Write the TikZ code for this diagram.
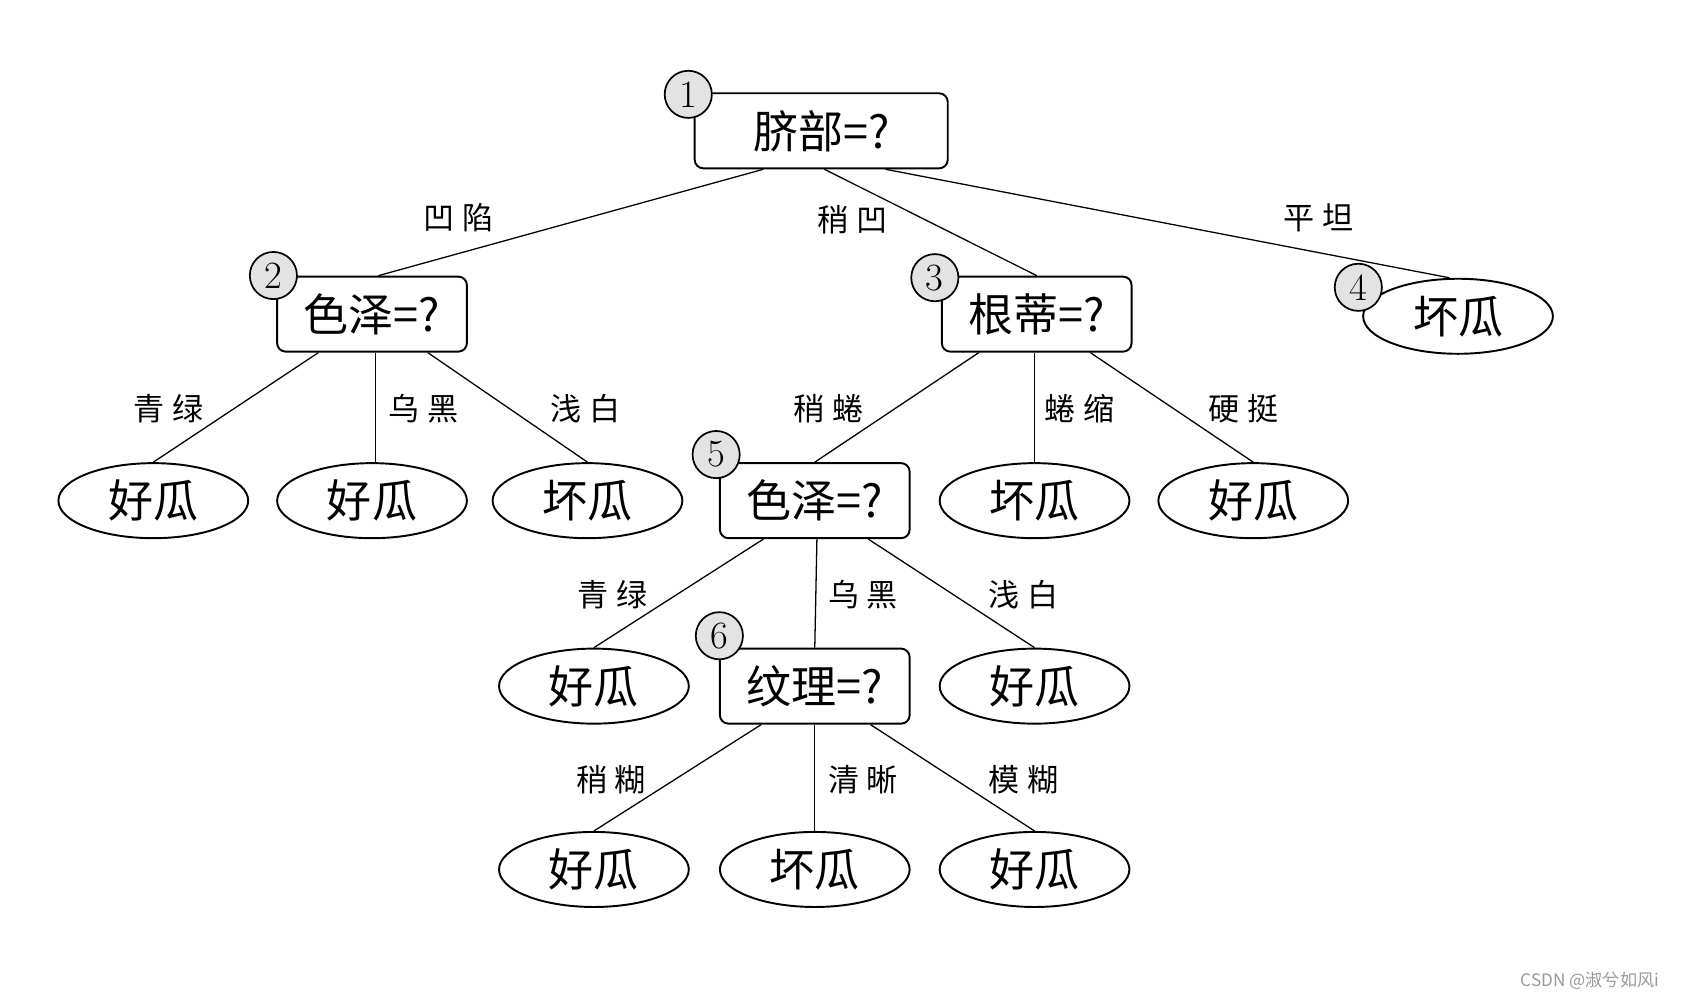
\documentclass[tikz,border=0pt]{standalone}
\usepackage{fontspec}
\newfontfamily\cjk{Noto Sans CJK SC}
\newfontfamily\cjklab[LetterSpace=25]{Noto Sans CJK SC}
\usetikzlibrary{shapes.geometric}
\begin{document}
\begin{tikzpicture}[x=0.5pt,y=-0.5pt,
  test/.style={draw, fill=white, rounded corners=4pt, minimum width=88.5pt, minimum height=35pt, line width=0.9pt, font=\cjk\fontsize{21}{21}\selectfont, inner sep=0pt},
  leaf/.style={draw, fill=white, ellipse, minimum width=88.5pt, minimum height=35pt, line width=0.9pt, font=\cjk\fontsize{21}{21}\selectfont, inner sep=0pt},
  num/.style={draw, circle, fill=gray!22, minimum size=22pt, inner sep=0pt, line width=0.8pt, font=\fontsize{18}{18}\selectfont},
  lab/.style={font=\cjklab\fontsize{14.5}{14.5}\selectfont, inner sep=0pt},
  edge/.style={line width=0.6pt}]
\useasboundingbox (0,0) rectangle (1568,933);
% tests and leaves
\node[test, minimum width=118pt] (n1) at (766,122) {脐部=?};
\node[test] (n2) at (347,293) {色泽=?};
\node[test] (n3) at (967,293) {根蒂=?};
\node[leaf] (n4) at (1360,295) {坏瓜};
\node[leaf] (l21) at (143,467) {好瓜};
\node[leaf] (l22) at (347,467) {好瓜};
\node[leaf] (l23) at (548,467) {坏瓜};
\node[test] (n5) at (760,467) {色泽=?};
\node[leaf] (l31) at (965,467) {坏瓜};
\node[leaf] (l32) at (1169,467) {好瓜};
\node[leaf] (l51) at (554,640) {好瓜};
\node[test] (n6) at (760,640) {纹理=?};
\node[leaf] (l53) at (965,640) {好瓜};
\node[leaf] (l61) at (554,811) {好瓜};
\node[leaf] (l62) at (760,811) {坏瓜};
\node[leaf] (l63) at (965,811) {好瓜};
% number circles
\node[num] (c1) at (642,88) {1};
\node[num] (c2) at (255,257) {2};
\node[num] (c3) at (872,259) {3};
\node[num] (c4) at (1267,268) {4};
\node[num] (c5) at (668,424) {5};
\node[num] (c6) at (671,593) {6};
% edges
\draw[edge] ([xshift=-27pt]n1.south) -- ([xshift=3pt]n2.north);
\draw[edge] ([xshift=1.5pt]n1.south) -- (n3.north);
\draw[edge] ([xshift=30pt]n1.south) -- ([xshift=-4pt]n4.north);
\draw[edge] ([xshift=-25pt]n2.south) -- (l21.north);
\draw[edge] ([xshift=1.5pt]n2.south) -- ([xshift=1.5pt]l22.north);
\draw[edge] ([xshift=26pt]n2.south) -- (l23.north);
\draw[edge] ([xshift=-27pt]n3.south) -- (n5.north);
\draw[edge] ([xshift=-1pt]n3.south) -- (l31.north);
\draw[edge] ([xshift=25pt]n3.south) -- (l32.north);
\draw[edge] ([xshift=-24pt]n5.south) -- (l51.north);
\draw[edge] ([xshift=1pt]n5.south) -- (n6.north);
\draw[edge] ([xshift=25pt]n5.south) -- (l53.north);
\draw[edge] ([xshift=-25pt]n6.south) -- (l61.north);
\draw[edge] (n6.south) -- (l62.north);
\draw[edge] ([xshift=26pt]n6.south) -- (l63.north);
% edge labels
\node[lab] (e12) at (428,203) {凹陷};
\node[lab] (e13) at (795,205) {稍凹};
\node[lab] (e14) at (1230,203) {平坦};
\node[lab] (e21) at (157,381) {青绿};
\node[lab] (e22) at (395,381) {乌黑};
\node[lab] (e23) at (546,381) {浅白};
\node[lab] (e31) at (773,381) {稍蜷};
\node[lab] (e32) at (1007,381) {蜷缩};
\node[lab] (e33) at (1160,381) {硬挺};
\node[lab] (e51) at (571,555) {青绿};
\node[lab] (e52) at (805,555) {乌黑};
\node[lab] (e53) at (955,555) {浅白};
\node[lab] (e61) at (570,727) {稍糊};
\node[lab] (e62) at (805,727) {清晰};
\node[lab] (e63) at (955,727) {模糊};
% watermark
\node[font=\cjk\fontsize{8}{8}\selectfont, text=gray!80, inner sep=0pt] (wm) at (1483,915) {CSDN @淑兮如风i};
\end{tikzpicture}
\end{document}
